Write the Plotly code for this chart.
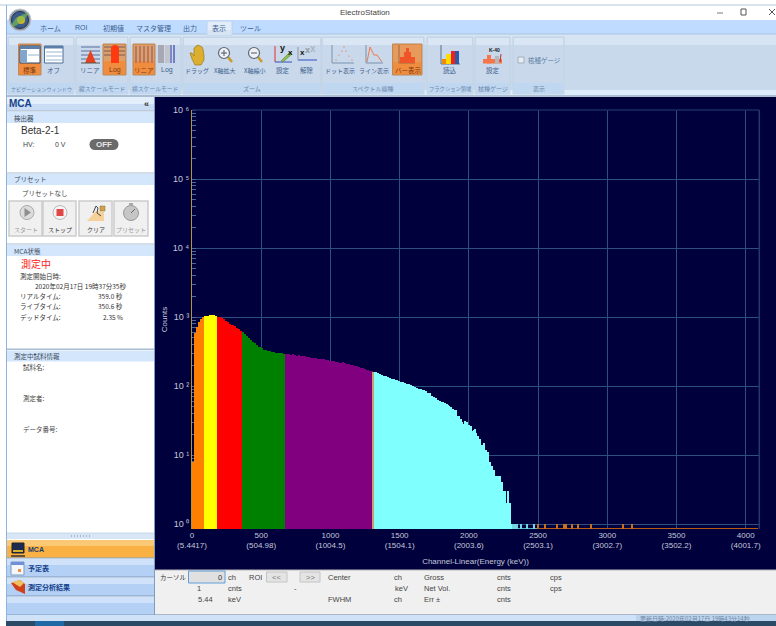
import plotly.graph_objects as go

# ---- spectrum data ----
STEP = 15
FINE_STEP = 7.5
orange_counts = [8, 580, 710, 860, 940, 995]
yellow_counts = [1020, 1045, 1060, 1075, 1065, 1040]
red_counts = [1015, 990, 960, 925, 885, 840, 800, 770, 735, 700, 665, 630]
green_counts = [610, 575, 530, 495, 465, 440, 415, 390, 370, 352, 338, 330, 325, 318, 312, 308, 303, 300, 302, 298, 296]
purple_counts = [294, 290, 285, 288, 281, 276, 279, 272, 268, 270, 263, 260, 257, 254, 256, 250, 246, 243, 245, 238, 236,
                 233, 230, 232, 226, 222, 219, 221, 215, 212, 208, 205, 200, 196, 192, 188, 184, 180, 176, 171, 167, 163]
cyan_counts = [162, 158, 155, 150, 146, 142, 138, 134, 130, 128, 125, 124, 120, 116, 114, 112, 107, 108, 104, 100,
               96, 94, 92, 90, 88, 84, 80, 78, 72, 70, 67, 62, 60]
cyan_fine_counts = [59, 58, 57, 56, 55, 54, 53, 52, 45, 49, 47, 46, 45, 41, 45, 37, 35, 37, 31, 33,
                    30, 28, 31, 28, 30, 27, 27, 25, 26, 22, 20, 23, 24, 21, 16, 19, 16, 17, 14, 14,
                    13, 15, 12, 12, 11, 11, 8, 8, 7, 6, 6, 4, 5, 5, 5, 4, 5, 4, 4, 3,
                    2, 3, 2, 2, 3, 2, 2, 1]
boundary_channels = [1307]
boundary_counts = [162]
cyan_spike_channels = [2320, 2335, 2350, 2379, 2418, 2473]
cyan_spike_counts = [1, 1, 1, 1, 1, 1]
orange_spike_channels = [2500, 2552, 2634, 2689, 2700, 2745, 2788, 2879, 3115, 3182]
orange_spike_counts = [1, 1, 1, 1, 1, 1, 1, 1, 1, 1]
floor_channels = [2405, 3295]
floor_widths = [190, 1590]
floor_counts = [0.88, 0.88]
x_tick_vals = [0, 500, 1000, 1500, 2000, 2500, 3000, 3500, 4000]
x_tick_kev = ["5.4417", "504.98", "1004.5", "1504.1", "2003.6", "2503.1", "3002.7", "3502.2", "4001.7"]
y_tick_vals = [1, 10, 100, 1000, 10000, 100000, 1000000]
y_tick_text = ["10 ⁰", "10 ¹", "10 ²", "10 ³", "10 ⁴", "10 ⁵", "10 ⁶"]

W, H = 776, 626
ML, MR, MT, MB = 192, 17, 110, 97
JP = "Noto Sans CJK JP"
LAT = "Liberation Sans"
NAVY = "#00003c"

shapes, notes = [], []
def px(x): return (x - ML) / (W - ML - MR)
def py(y): return 1 - (y - MT) / (H - MT - MB)

def R(x0, y0, x1, y1, fill, line=None, lw=1, layer="below", kind="rect"):
    shapes.append(dict(type=kind, xref="paper", yref="paper", x0=px(x0), x1=px(x1), y0=py(y0), y1=py(y1),
                       fillcolor=fill, line=dict(color=line or "rgba(0,0,0,0)", width=lw if line else 0), layer=layer))
def C(cx, cy, r, fill, line=None, lw=1):
    R(cx - r, cy - r, cx + r, cy + r, fill, line, lw, kind="circle")
def L(x0, y0, x1, y1, color, lw=1, layer="below"):
    shapes.append(dict(type="line", xref="paper", yref="paper", x0=px(x0), x1=px(x1), y0=py(y0), y1=py(y1),
                       line=dict(color=color, width=lw), layer=layer))
def P(points, fill, line=None, lw=1, close=True):
    d = "M " + " L ".join("%.5f,%.5f" % (px(a), py(b)) for a, b in points) + (" Z" if close else "")
    shapes.append(dict(type="path", xref="paper", yref="paper", path=d, fillcolor=fill if close else "rgba(0,0,0,0)",
                       line=dict(color=line or "rgba(0,0,0,0)", width=lw if line else 0), layer="below"))
def T(x, y, text, size=7, color="#333333", anchor="left", font=JP, bold=False):
    if bold:
        text = "<b>%s</b>" % text
    notes.append(dict(xref="paper", yref="paper", x=px(x), y=py(y), text=text, showarrow=False, xanchor=anchor,
                      yanchor="middle", font=dict(family=font, size=size, color=color), borderpad=0, borderwidth=0))

# ---- window frame ----
R(0, 0, W, H, "#ffffff")
L(0, 5, W, 5, "#b4c8da", 1)
L(6.5, 5, 6.5, 621, "#8fb4dc", 1)
T(365, 13, "ElectroStation", 8, "#444444", "center", LAT)
L(717, 13, 723, 13, "#777777", 1)
R(741, 9, 746, 15, "rgba(0,0,0,0)", "#555555", 1)
L(769, 9, 775, 15, "#555555", 1); L(775, 9, 769, 15, "#555555", 1)

# ---- ribbon ----
R(7, 20, W, 34, "#bfdbff")
R(7, 34, W, 97, "#c9d9ec")
R(7, 34, W, 45, "#d6e4f3")
R(7, 90, W, 95, "#dcecfb")
L(7, 34, W, 34, "#a9c4e2", 1)
L(7, 96, W, 96, "#8aa0b8", 1)
R(207, 21, 232, 35, "#e2edf9", "#bcd2ea")
R(208, 30, 231, 35, "#d6e4f3")
for cx, lab, f in [(50, "ホーム", JP), (81, "ROI", LAT), (113, "初期値", JP), (153, "マスタ管理", JP), (190, "出力", JP), (219, "表示", JP), (250, "ツール", JP)]:
    T(cx, 28, lab, 7, "#3d5f8f", "center", f)
# application orb
C(20, 20, 11, "#8d97a5", "#c5cbd4", 1)
C(20, 20, 8.5, "#3a5c8a", "#26324a", 1)
C(21, 20, 4, "#d9b21f")
P([(11, 25), (16, 18), (26, 13), (29, 13), (24, 20), (14, 27)], "rgba(120,190,90,0.65)")

groups = [(8, 74, "ナビゲーションウィンドウ", 5.1), (76, 128, "縦スケールモード", 5.8), (130, 181, "横スケールモード", 5.8), (183, 321, "ズーム", 6),
          (322, 424, "スペクトル線種", 6), (427, 473, "フラクション領域", 5.3), (475, 510, "核種ゲージ", 6), (513, 564, "表示", 6)]
for a, b, lab, fs in groups:
    R(a, 37, b, 94, "#c9d8ea", "#c2d3e6")
    R(a + 1, 38, b - 1, 45, "#dae6f3")
    R(a + 1, 83, b - 1, 93.5, "#bfd7f1")
    T((a + b) / 2, 88.5, lab, fs, "#6b86aa", "center")

def orange_box(a, b):
    R(a, 44, b, 75, "#f08c3e", "#b98a5e", 1)
    R(a + 1, 45, b - 1, 61, "#d8a06c")

# navigation
orange_box(18.5, 41)
R(20, 46, 40, 63, "#ffffff", "#23466f", 1); R(20, 46, 40, 49, "#5b7fa8"); R(21, 50, 27, 62, "#7fa6cf"); L(28, 55, 39, 55, "#9ab4d0", 1)
T(30, 70, "標準", 6.5, "#7a3b12", "center")
R(44.5, 46, 63, 63, "#ffffff", "#4c6f98", 1); R(45, 46, 63, 48.5, "#5b7fa8")
for y in (52, 56, 60):
    L(46, y, 62, y, "#9ab4d0", 1)
T(53, 70, "オフ", 6.5, "#3d5f8f", "center")
# vertical scale
for y in (47, 51, 55, 59):
    L(81, y, 100, y, "#5b6fa0", 1)
P([(85, 63), (90.5, 50), (96, 63)], "#e8401a")
L(81, 63, 100, 63, "#555555", 1)
T(90, 70, "リニア", 6.5, "#3d5f8f", "center")
orange_box(103, 126)
for y in (47, 51, 55):
    L(104, y, 125, y, "#7a5a5a", 1)
R(111, 47, 119, 63, "#ff3a10"); C(115, 49, 4, "#ff3a10")
T(114.5, 70, "Log", 7, "#7a3b12", "center", LAT)
# horizontal scale
orange_box(133, 155)
for x in (136, 140, 144, 148, 152):
    L(x, 46, x, 63, "#b06a5a", 1.5)
T(144, 70, "リニア", 6.5, "#7a3b12", "center")
R(158, 45, 164, 63, "#a8a8b4"); R(165, 45, 170, 63, "#c4c4cc"); L(171, 45, 171, 63, "#6470b8", 1.5); L(174, 45, 174, 63, "#5060b8", 1.5)
T(167, 70, "Log", 7, "#3d5f8f", "center", LAT)
# zoom
P([(192, 59), (190, 53), (192, 53), (194, 56), (194, 48), (196, 47), (196, 46), (198, 45), (200, 46), (202, 47), (203, 49), (204, 56), (204, 60), (201, 65), (195, 65)], "#dcb02e", "#9a7a1e", 0.7)
T(197, 70, "ドラッグ", 6, "#3d5f8f", "center")
for cx, lab, sign, tx in [(224, "X軸拡大", "+", 224), (254, "X軸縮小", "−", 254)]:
    L(cx + 4, 57, cx + 8, 62, "#c89a2a", 2.5)
    C(cx, 53, 5.5, "#eef2f6", "#5d6a76", 1.2)
    L(cx - 3, 53, cx + 3, 53, "#4a5560", 1)
    if sign == "+":
        L(cx, 50, cx, 56, "#4a5560", 1)
    T(tx, 70, lab, 6, "#3d5f8f", "center")
L(275, 46, 275, 62, "#e03030", 1); L(275, 62, 292, 62, "#3050c0", 1)
T(282, 48, "y", 9, "#111111", "center", LAT, True); T(290, 52, "x", 8, "#111111", "center", LAT, True)
P([(281, 61), (283, 62), (292, 54), (290, 52)], "#8abf4a", "#567a2a", 0.5)
T(283, 70, "設定", 6.5, "#3d5f8f", "center")
T(313, 48, "x", 10, "#a9b6c4", "center", LAT, True); T(307, 50, "x", 9, "#8c98a6", "center", LAT, True); T(302, 53, "x", 8, "#111111", "center", LAT, True)
L(298, 60, 317, 60, "#3050c0", 1); L(298, 47, 298, 60, "#8899aa", 1)
T(307, 70, "解除", 6.5, "#3d5f8f", "center")
# spectrum line type
L(332, 45, 332, 63, "#7b93b0", 1); L(332, 63, 354, 63, "#7b93b0", 1)
for a, b in [(336, 60), (339, 55), (342, 51), (344, 47), (346, 51), (349, 56), (352, 60)]:
    C(a, b, 0.6, "#e8662a")
T(340, 70, "ドット表示", 6, "#3d5f8f", "center")
L(366, 45, 366, 63, "#7b93b0", 1); L(366, 63, 383, 63, "#7b93b0", 1)
P([(367, 62), (370, 47), (374, 55), (377, 55), (382, 62)], "", "#ee7a4a", 1, False)
T(374, 70, "ライン表示", 6, "#3d5f8f", "center")
R(392.5, 44, 422, 75, "#f08c3e", "#b98a5e", 1); R(393.5, 45, 421, 62, "#e89a5c")
L(399, 45, 399, 63, "#9a6a44", 1); L(399, 63, 415, 63, "#9a6a44", 1)
R(400, 57, 415, 63, "#f0552a"); R(404, 52, 411, 63, "#f0552a"); R(406, 48, 409, 63, "#f0552a")
T(408, 70, "バー表示", 6.5, "#7a3b12", "center")
# fraction
L(441, 45, 441, 64, "#5a6f88", 1); L(441, 64, 460, 64, "#5a6f88", 1)
R(442, 59, 446, 64, "#f58a00"); R(446, 54, 451, 64, "#ffdd00"); R(451, 51, 455, 64, "#ee2020"); R(455, 51, 459, 64, "#2a5aa8")
T(450, 70, "読込", 6.5, "#3d5f8f", "center")
# K-40
T(494.5, 50, "K-40", 5, "#222222", "center", LAT, True)
R(483, 59, 502, 63.5, "#f4764a"); R(487, 55, 491, 63.5, "#f4764a"); R(495, 56, 499, 63.5, "#b0b8c0"); L(500, 62, 501, 54, "#c03020", 1)
T(493, 70, "設定", 6.5, "#3d5f8f", "center")
# display checkbox
R(518, 57, 524, 63, "#e8edf3", "#a0aebe")
T(528, 60, "核種ゲージ", 6.5, "#5a7aa0")

# ---- left panel ----
R(7, 97, 154, 615, "#ffffff")
R(7, 97, 154, 104, "#e3eefb"); R(7, 104, 154, 111, "#c9dcf3")
L(154.5, 97, 154.5, 615, "#7f9dc0", 1)
T(9, 104, "MCA", 10, "#15428b", font=LAT, bold=True)
T(146, 104, "«", 9, "#333333", "center", LAT, True)
for a, b, lab in [(112, 123, "検出器"), (174, 185, "プリセット"), (245, 256, "MCA状態"), (350.5, 361.5, "測定中試料情報")]:
    R(7, a, 154, b, "#d4e6fc")
    L(7, a - 1, 154, a - 1, "#a9bdd4", 1)
    T(14, (a + b) / 2, lab, 6.5, "#3a4a5a")
T(21, 130, "Beta-2-1", 10, "#333333", font=LAT)
T(23, 144, "HV:", 7, "#444444", font=LAT)
T(55, 144, "0 V", 7, "#444444", font=LAT)
R(95, 139, 113, 150, "#6a6a6a")
C(95, 144.5, 5.5, "#6a6a6a"); C(113, 144.5, 5.5, "#6a6a6a")
T(104, 144.5, "OFF", 8, "#e8e8e8", "center", LAT, True)
T(22, 193, "プリセットなし", 6.5, "#444444")
for a, b, lab, col in [(9, 42, "スタート", "#999999"), (43, 76, "ストップ", "#333333"), (79, 112, "クリア", "#333333"), (114, 148, "プリセット", "#999999")]:
    R(a, 201, b, 236, "#f0f0f0", "#cccccc", 1.5)
    T((a + b) / 2, 229.5, lab, 6, col, "center")
C(27, 212.5, 7, "#dcdcdc", "#aaaaaa", 1); P([(24.5, 208), (24.5, 217), (31, 212.5)], "#8e8e8e")
C(60, 212.5, 7, "#f4f4f4", "#b8b8b8", 1); R(56.5, 209, 63.5, 216, "#e04848")
P([(87, 221), (104, 221), (104, 212), (96, 211)], "#f5d098"); P([(93, 213), (96, 206), (98, 208), (97, 213), (101, 216)], "", "#444444", 1, False); R(100, 206, 105, 211, "#d8a040", "#777755", 0.5)
C(131, 213, 7.5, "#c6c6c6", "#999999", 1); L(131, 213, 135, 209, "#666666", 1); R(129, 203, 133, 205.5, "#aaaaaa")
T(21, 263, "測定中", 10, "#ff2020")
T(20, 276, "測定開始日時:", 6.5, "#333333")
T(35, 285.5, "2020年02月17日 19時37分35秒", 6.5, "#333333")
for y, lab, val in [(296, "リアルタイム:", "359.0 秒"), (306, "ライブタイム:", "350.6 秒"), (317, "デッドタイム:", "2.35 %")]:
    T(20, y, lab, 6.5, "#333333")
    T(123, y, val, 6.5, "#333333", "right")
L(7, 349, 154, 349, "#a9bdd4", 1)
T(23, 367, "試料名:", 6.5, "#444444")
T(23, 398, "測定者:", 6.5, "#444444")
T(23, 429, "データ番号:", 6.5, "#444444")
R(7, 533, 154, 539, "#d8e6f6")
L(7, 533, 154, 533, "#b8cce0", 0.7)
for x in range(71, 90, 3):
    R(x, 535.5, x + 1, 536.5, "#7089a8")
R(7, 540, 154, 558, "#f9b144"); R(7, 540, 154, 546, "#fbc875"); L(7, 558, 154, 558, "#7f9dc0", 1)
for a, b in [(559, 577), (578, 596), (597, 615)]:
    R(7, a, 154, b, "#b4d0f4"); R(7, a, 154, a + 6, "#cfe2fa"); L(7, b, 154, b, "#7f9dc0", 1)
T(28, 549, "MCA", 7, "#1a3a6a", font=LAT, bold=True)
T(28, 568, "予定表", 7, "#15428b", bold=True)
T(28, 587, "測定分析結果", 7, "#15428b", bold=True)
R(12, 543, 24, 553, "#1c2a50", "#222222"); R(13, 550, 23, 552, "#d8b030"); L(11, 556, 25, 556, "#333333", 1.5)
R(11, 562, 24, 575, "#f4f6fa", "#7f9dc0"); R(11, 562, 24, 565, "#6f90d8"); R(18, 569, 21, 572, "#f09040")
P([(11, 583), (20, 580), (25, 584), (25, 594), (16, 590)], "#d0401a"); P([(12, 582), (20, 580), (24, 583), (20, 587)], "#f0c060")

# ---- chart background and bottom panel ----
R(155, 97, W, 570, NAVY)
R(155, 570, W, 614, "#f0f0f0")
L(155, 570, W, 570, "#b8b8b8", 1)
L(155, 614.5, W, 614.5, "#a8b8c8", 1)
R(7, 615, W, 621, "#cfe2f7")
R(636, 615, W, 621, "#bcd4ee")
T(640, 618, "更新日時:2020年02月17日 19時43分14秒", 6, "#6f86a4")
R(6, 621, W, H, "#2b4a66")
R(35, 621, 64, H, "#1e68a6")
R(188.5, 571, 225, 583, "#e0e0e0", "#5f9ed8", 1)
T(222, 577, "0", 7.5, "#333333", "right", LAT)
R(266.5, 572, 287, 582, "#e4e4e4", "#c4c4c4")
R(300, 572, 320, 582, "#e4e4e4", "#c4c4c4")
T(276.5, 577, "<<", 7.5, "#777777", "center", LAT)
T(310, 577, ">>", 7.5, "#777777", "center", LAT)
T(160, 577, "カーソル", 6.5, "#333333")
for x, y, s, a in [(228, 577, "ch", "left"), (249, 577, "ROI", "left"), (328, 577, "Center", "left"), (394, 577, "ch", "left"),
                   (424, 577, "Gross", "left"), (497, 577, "cnts", "left"), (550, 577, "cps", "left"),
                   (197, 588, "1", "left"), (228, 588, "cnts", "left"), (294, 588, "-", "left"), (395, 588, "keV", "left"),
                   (424, 588, "Net Vol.", "left"), (497, 588, "cnts", "left"), (550, 588, "cps", "left"),
                   (198, 599, "5.44", "left"), (228, 599, "keV", "left"), (328, 599, "FWHM", "left"), (394, 599, "ch", "left"),
                   (424, 599, "Err ±", "left"), (497, 599, "cnts", "left")]:
    T(x, y, s, 7.5, "#444444", a, LAT)

# plot frame parts that differ from the grid colour
L(192, 110, 759, 110, "#1a2c62", 1.5, "above")
L(759.3, 110, 759.3, 529, "#1f3a70", 1.5, "above")

# ---- traces ----
fig = go.Figure()
start = 0
for counts, color, name, step in [(orange_counts, "#ff8000", "orange", STEP), (yellow_counts, "#ffff00", "yellow", STEP),
                                  (red_counts, "#ff0000", "red", STEP), (green_counts, "#008000", "green", STEP),
                                  (purple_counts, "#800080", "purple", STEP), (cyan_counts, "#80ffff", "cyan", STEP),
                                  (cyan_fine_counts, "#80ffff", "cyan end", FINE_STEP)]:
    chans = [start + step * (i + 0.5) for i in range(len(counts))]
    start += step * len(counts)
    fig.add_trace(go.Bar(x=chans, y=counts, width=step, name=name, marker=dict(color=color, line=dict(width=0))))
fig.add_trace(go.Bar(x=boundary_channels, y=boundary_counts, width=5, name="boundary",
                     marker=dict(color="#c8a070", line=dict(width=0))))
fig.add_trace(go.Bar(x=floor_channels, y=floor_counts, width=floor_widths, name="floor",
                     marker=dict(color=["#4fb8c0", "#b85c14"], line=dict(width=0))))
fig.add_trace(go.Bar(x=cyan_spike_channels, y=cyan_spike_counts, width=7, name="cyan tail",
                     marker=dict(color="#6fd8e0", line=dict(width=0))))
fig.add_trace(go.Bar(x=orange_spike_channels, y=orange_spike_counts, width=7, name="orange tail",
                     marker=dict(color="#c8701c", line=dict(width=0))))

GRID = "#2b5080"
fig.update_layout(
    width=W, height=H, autosize=False, showlegend=False, barmode="overlay", bargap=0,
    margin=dict(l=ML, r=MR, t=MT, b=MB, pad=0),
    paper_bgcolor="#ffffff", plot_bgcolor=NAVY,
    shapes=shapes, annotations=notes,
    font=dict(family=LAT, size=8, color="#c4c8d8"),
    xaxis=dict(range=[0, 4096], tickvals=x_tick_vals,
               ticktext=["%d<br>(%s)" % (v, k) for v, k in zip(x_tick_vals, x_tick_kev)],
               showgrid=True, gridcolor=GRID, gridwidth=1, zeroline=False, showline=False, ticks="", ticklen=0,
               tickfont=dict(family=LAT, size=8, color="#c4c8d8"), layer="below traces",
               title=dict(text="Channel-Linear(Energy (keV))", font=dict(family=LAT, size=8, color="#c4c8d8"), standoff=8)),
    yaxis=dict(type="log", range=[-0.072, 6.0], tickvals=y_tick_vals, ticktext=y_tick_text,
               showgrid=True, gridcolor=GRID, gridwidth=1, zeroline=False, showline=True, linecolor="#b09440", linewidth=1,
               ticks="", tickfont=dict(family=LAT, size=9, color="#c4c8d8"), layer="below traces",
               minor=dict(ticks="inside", ticklen=4, tickwidth=1, tickcolor="#4a6a94", dtick="D1", showgrid=False),
               title=dict(text="Counts", font=dict(family=LAT, size=8, color="#c4c8d8"), standoff=4)),
)
fig.write_html("out.html", config={"displayModeBar": False},
               post_script="document.body.style.margin='0';document.body.style.overflow='hidden';")
